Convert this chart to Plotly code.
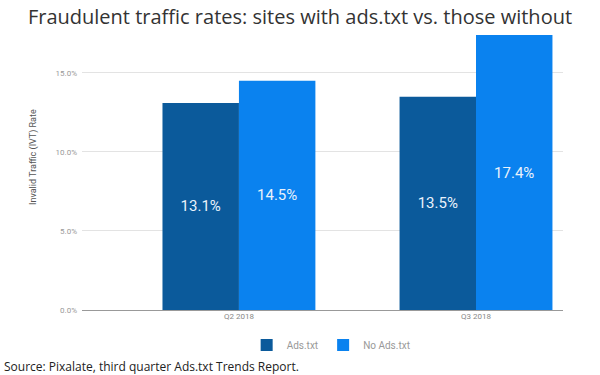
import plotly.graph_objects as go

categories = ["Q2 2018", "Q3 2018"]
ads_txt = [13.1, 13.5]
no_ads_txt = [14.5, 17.4]
series_names = ["Ads.txt", "No Ads.txt"]
colors = ["#0B5A9B", "#0A82EF"]

fig = go.Figure()
for name, vals, col in zip(series_names, [ads_txt, no_ads_txt], colors):
    fig.add_trace(go.Bar(
        x=categories, y=vals, name=name,
        marker=dict(color=col, line=dict(width=0)),
        text=[f"{v:.1f}%" for v in vals],
        textposition="inside", insidetextanchor="middle",
        textfont=dict(family="Roboto", size=15, color="#EAF2FB"),
        cliponaxis=True,
    ))

fig.update_layout(
    width=600, height=375,
    margin=dict(l=82, r=37, t=35, b=65),
    paper_bgcolor="white", plot_bgcolor="white",
    barmode="group", bargap=0.355, bargroupgap=0,
    title=dict(text="Fraudulent traffic rates: sites with ads.txt vs. those without",
               x=0.5, xanchor="center", y=1 - 17/375, yanchor="middle",
               font=dict(family="Open Sans", size=20, color="#333333")),
    xaxis=dict(range=[-0.662, 1.367], showgrid=False, showline=False,
               tickfont=dict(family="Roboto", size=8, color="#888888"), ticks=""),
    yaxis=dict(range=[0, 17.4], tickvals=[0, 5, 10, 15],
               ticktext=["0.0%", "5.0%", "10.0%", "15.0%"],
               showgrid=True, gridcolor="#E3E3E3", gridwidth=1,
               zeroline=True, zerolinecolor="#999999", zerolinewidth=1,
               tickfont=dict(family="Roboto", size=8, color="#999999"),
               ticklabelstandoff=4),
    legend=dict(orientation="h", x=0.518, xanchor="center", y=-0.127, yanchor="middle",
                font=dict(family="Roboto", size=10, color="#999999"),
                itemwidth=30, traceorder="normal"),
    showlegend=True,
    annotations=[
        dict(text="Invalid Traffic (IVT) Rate", textangle=-90,
             xref="paper", yref="paper", x=(33-82)/481, xanchor="center",
             y=(310-157)/275, yanchor="middle", showarrow=False,
             font=dict(family="Roboto", size=9, color="#555555")),
        dict(text="Source: Pixalate, third quarter Ads.txt Trends Report.",
             xref="paper", yref="paper", x=-80/481, xanchor="left",
             y=(310-366)/275, yanchor="middle", showarrow=False,
             font=dict(family="Open Sans", size=12, color="#222222")),
    ],
)

fig.write_html("out.html", config={"displayModeBar": False},
               post_script="document.body.style.margin='0';document.body.style.padding='0';")
